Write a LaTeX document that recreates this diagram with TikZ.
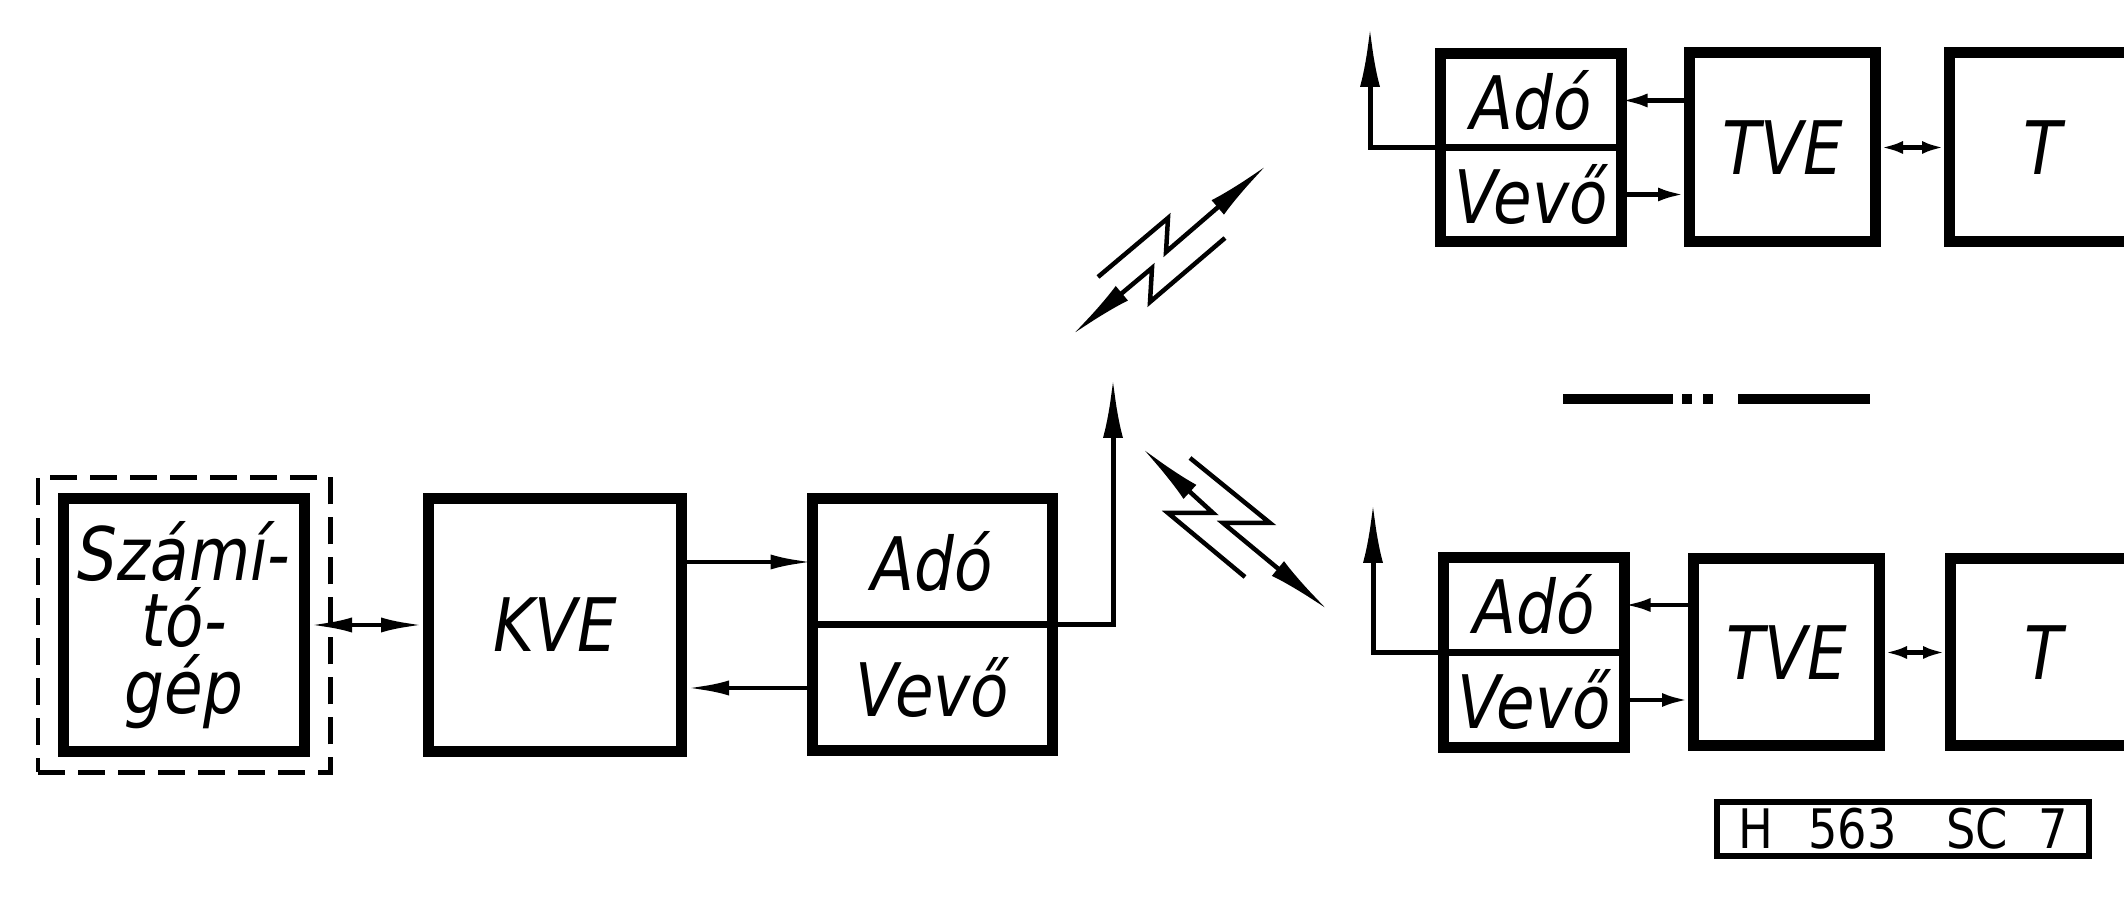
\documentclass[tikz,border=0pt]{standalone}
\usepackage{fontspec}
\setmainfont{DejaVu Sans}[FakeStretch=0.85]
\usetikzlibrary{arrows.meta,positioning}

\begin{document}
\begin{tikzpicture}[
  blk/.style={draw, line width=1.1mm, inner sep=0pt, align=center,
    font=\itshape\fontsize{21}{19}\selectfont},
  half/.style={draw, line width=0.7mm, outer sep=0pt, inner sep=0pt,
    minimum width=#1, font=\itshape\fontsize{21}{19}\selectfont},
  link/.style={line width=0.45mm, -{Latex[length=4.2mm,width=1.5mm]}},
  duplex/.style={line width=0.45mm,
    {Latex[length=4.2mm,width=1.5mm]}-{Latex[length=4.2mm,width=1.5mm]}},
  tlink/.style={line width=0.45mm, -{Latex[length=2.6mm,width=1.4mm]}},
  tduplex/.style={line width=0.45mm,
    {Latex[length=2.2mm,width=1.3mm]}-{Latex[length=2.2mm,width=1.3mm]}},
  aerial/.style={line width=0.5mm, -{Latex[length=6mm,width=2mm]}},
  bolt/.style={line width=0.45mm, -{Latex[length=6.5mm,width=1.9mm]}}
]
\path[use as bounding box, clip] (0,0) rectangle (21.24,9.04);

% central station
\node[blk, minimum width=2.41cm, minimum height=2.53cm] (comp) at (1.84,2.79) {Számí-\\tó-\\gép};
\node[draw, line width=0.5mm, dash pattern=on 2.7mm off 1.3mm,
  minimum width=2.92cm, minimum height=2.95cm] (frame) at (comp) {};
\node[blk, minimum width=2.53cm, minimum height=2.53cm, right=1.13cm of comp] (kve) {KVE};
\node[blk, minimum width=2.40cm, minimum height=2.52cm, right=1.20cm of kve] (rs1) {};
\node[half=2.40cm, minimum height=1.26cm, anchor=south] (ado1) at (rs1.center) {Adó};
\node[half=2.40cm, minimum height=1.26cm, anchor=north] (vevo1) at (rs1.center) {Vevő};
\coordinate (ant1) at (11.13,5.26);
\draw[duplex] (comp) -- (kve);
\draw[link] (kve.east |- ado1) -- (ado1);
\draw[link] (vevo1) -- (kve.east |- vevo1);
\draw[aerial] (rs1.east) -| (ant1);

% upper terminal
\node[blk, minimum width=1.81cm, minimum height=1.88cm] (rs2) at (15.31,7.565) {};
\node[half=1.81cm, minimum height=0.94cm, anchor=south] (ado2) at (rs2.center) {Adó};
\node[half=1.81cm, minimum height=0.94cm, anchor=north] (vevo2) at (rs2.center) {Vevő};
\node[blk, minimum width=1.86cm, minimum height=1.89cm, right=0.57cm of rs2] (tve2) {TVE};
\node[blk, minimum width=1.86cm, minimum height=1.89cm, right=0.63cm of tve2] (t2) {T};
\coordinate (ant2) at (13.70,8.77);
\draw[tlink] (tve2.west |- ado2) -- (ado2);
\draw[tlink] (vevo2) -- (tve2.west |- vevo2);
\draw[tduplex] (tve2) -- (t2);
\draw[aerial] (rs2.west) -| (ant2);

% lower terminal
\node[blk, minimum width=1.81cm, minimum height=1.90cm] (rs3) at (15.34,2.515) {};
\node[half=1.81cm, minimum height=0.95cm, anchor=south] (ado3) at (rs3.center) {Adó};
\node[half=1.81cm, minimum height=0.95cm, anchor=north] (vevo3) at (rs3.center) {Vevő};
\node[blk, minimum width=1.86cm, minimum height=1.87cm, right=0.58cm of rs3] (tve3) {TVE};
\node[blk, minimum width=1.86cm, minimum height=1.87cm, right=0.60cm of tve3] (t3) {T};
\coordinate (ant3) at (13.73,4.01);
\draw[tlink] (tve3.west |- ado3) -- (ado3);
\draw[tlink] (vevo3) -- (tve3.west |- vevo3);
\draw[tduplex] (tve3) -- (t3);
\draw[aerial] (rs3.west) -| (ant3);

% radio links
\draw[bolt] (10.98,6.27) -- (11.68,6.86) -- (11.66,6.52) -- (12.67,7.39);
\draw[bolt] (12.25,6.66) -- (11.50,6.02) -- (11.52,6.36) -- (10.72,5.69);
\draw[bolt] (12.45,3.27) -- (11.68,3.91) -- (12.13,3.91) -- (11.42,4.56);
\draw[bolt] (11.90,4.46) -- (12.70,3.81) -- (12.23,3.81) -- (13.28,2.94);

% more terminals
\draw[line width=1mm, dash pattern=on 11mm off 0.9mm on 1mm off 1.1mm on 1mm off 2.5mm on 13.2mm]
  (15.63,5.05) -- (18.70,5.05);

% drawing number
\node[draw, line width=0.6mm, minimum width=3.72cm, minimum height=0.54cm, inner sep=0pt,
  font=\fontsize{15.5}{14}\selectfont] (code) at (19.03,0.75)
  {H\hspace{0.35cm}563\hspace{0.5cm}SC\hspace{0.3cm}7};
\end{tikzpicture}
\end{document}
